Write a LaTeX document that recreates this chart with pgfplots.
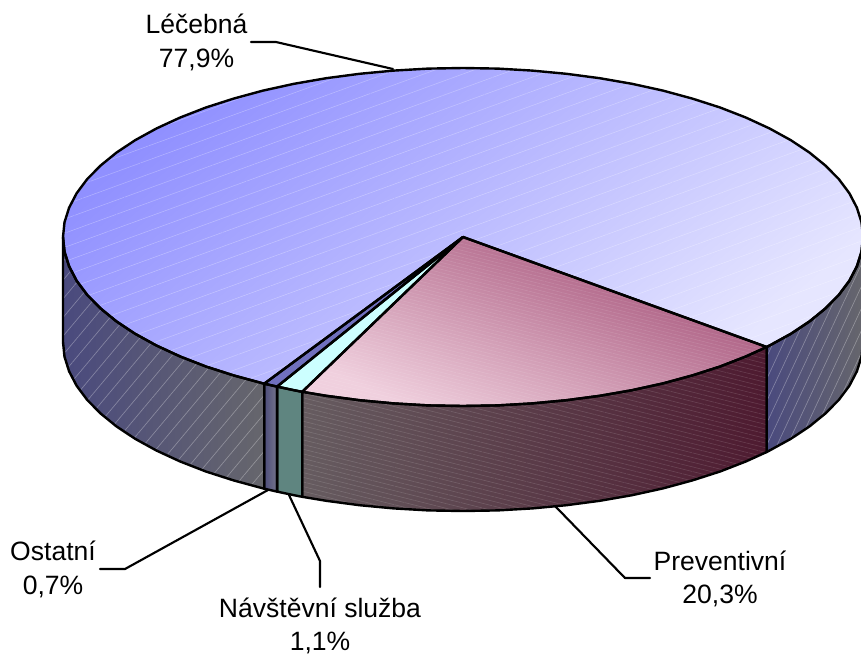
\documentclass[border=0pt]{standalone}
\usepackage{pgfplots}
\pgfplotsset{compat=1.18}
\usepackage{pgfplotstable}
\usepackage{fontspec}
\setmainfont{Liberation Sans}
\usetikzlibrary{patterns.meta}
\definecolor{blueA}{HTML}{9090FF}
\definecolor{blueB}{HTML}{E6E6FF}
\definecolor{pinkA}{HTML}{A04A72}
\definecolor{pinkB}{HTML}{F0D0DE}
\definecolor{sideA}{HTML}{4A4A7E}
\definecolor{sideB}{HTML}{66666C}
\definecolor{sideP}{HTML}{4E1A30}
\definecolor{sideQ}{HTML}{665C60}
\definecolor{teal1}{HTML}{5F8580}
\definecolor{oA}{HTML}{4E4E7C}
\definecolor{oB}{HTML}{74748A}
\definecolor{oTop}{HTML}{7070BE}
\definecolor{cyanTop}{HTML}{CCFFFF}

% top faces (pixel coordinates of the picture)
\pgfplotstableread{
x y
463 237
264.2 383.7
233.6 375.4
205.9 366.5
180.2 356.5
156.6 345.6
135.3 333.9
116.6 321.5
100.5 308.4
87.1 294.8
76.6 280.7
69.1 266.3
64.5 251.7
63 237
64.5 222.3
69.1 207.7
76.6 193.3
87.1 179.2
100.5 165.6
116.6 152.5
135.3 140.1
156.6 128.4
180.2 117.5
205.9 107.5
233.6 98.6
263 90.6
294 83.8
326.2 78.2
359.5 73.8
393.6 70.6
428.1 68.6
463 68
497.9 68.6
532.4 70.6
566.5 73.8
599.8 78.2
632 83.8
663 90.6
692.4 98.6
720.1 107.5
745.8 117.5
769.4 128.4
790.7 140.1
809.4 152.5
825.5 165.6
838.9 179.2
849.4 193.3
856.9 207.7
861.5 222.3
863 237
861.5 251.7
856.9 266.3
849.4 280.7
838.9 294.8
825.5 308.4
809.4 321.5
790.7 333.9
769.4 345.6
766.7 347
463 237
}\topL
\pgfplotstableread{
x y
463 237
766.7 347
745.8 356.5
720.1 366.5
692.4 375.4
663 383.4
632 390.2
599.8 395.8
566.5 400.2
532.4 403.4
497.9 405.4
463 406
428.1 405.4
393.6 403.4
359.5 400.2
326.2 395.8
302.2 391.8
463 237
}\topP
\pgfplotstableread{
x y
463 237
302.2 391.8
294 390.2
277.1 386.6
463 237
}\topV
\pgfplotstableread{
x y
463 237
277.1 386.6
264.2 383.7
463 237
}\topO
% side walls
\pgfplotstableread{
x y
264.2 383.7
233.6 375.4
205.9 366.5
180.2 356.5
156.6 345.6
135.3 333.9
116.6 321.5
100.5 308.4
87.1 294.8
76.6 280.7
69.1 266.3
64.5 251.7
63 237
63 342
64.5 356.7
69.1 371.3
76.6 385.7
87.1 399.8
100.5 413.4
116.6 426.5
135.3 438.9
156.6 450.6
180.2 461.5
205.9 471.5
233.6 480.4
264.2 488.7
264.2 383.7
}\sideLl
\pgfplotstableread{
x y
863 237
861.5 251.7
856.9 266.3
849.4 280.7
838.9 294.8
825.5 308.4
809.4 321.5
790.7 333.9
769.4 345.6
766.7 347
766.7 452
769.4 450.6
790.7 438.9
809.4 426.5
825.5 413.4
838.9 399.8
849.4 385.7
856.9 371.3
861.5 356.7
863 342
863 237
}\sideLr
\pgfplotstableread{
x y
766.7 347
745.8 356.5
720.1 366.5
692.4 375.4
663 383.4
632 390.2
599.8 395.8
566.5 400.2
532.4 403.4
497.9 405.4
463 406
428.1 405.4
393.6 403.4
359.5 400.2
326.2 395.8
302.2 391.8
302.2 496.8
326.2 500.8
359.5 505.2
393.6 508.4
428.1 510.4
463 511
497.9 510.4
532.4 508.4
566.5 505.2
599.8 500.8
632 495.2
663 488.4
692.4 480.4
720.1 471.5
745.8 461.5
766.7 452
766.7 347
}\sidePr
\pgfplotstableread{
x y
302.2 391.8
294 390.2
277.1 386.6
277.1 491.6
294 495.2
302.2 496.8
302.2 391.8
}\sideV
\pgfplotstableread{
x y
277.1 386.6
264.2 383.7
264.2 488.7
277.1 491.6
277.1 386.6
}\sideO
% leader lines
\pgfplotstableread{
x y
251 42
276 42
393 69
}\leadL
\pgfplotstableread{
x y
556 507
625 578
650 578
}\leadP
\pgfplotstableread{
x y
268 490
125 569
100 569
}\leadO
\pgfplotstableread{
x y
289 495
320 561
320 587
}\leadV

\begin{document}
\begin{tikzpicture}[x=1pt,y=1pt]
\useasboundingbox (0,0) rectangle (645.75pt,490.5pt);
\begin{axis}[
  at={(0,0)},anchor=south west,
  scale only axis,width=645.75pt,height=490.5pt,
  xmin=0,xmax=861,ymin=0,ymax=654,y dir=reverse,
  hide axis,clip=true,
  every axis plot/.append style={line join=round,line cap=round},
  outl/.style={draw=black,line width=1.8pt},
]
% walls
\addplot[draw=none,left color=sideA,right color=sideB] table {\sideLl};
\addplot[draw=none,pattern={Lines[angle=50,distance=9pt,line width=.5pt]},pattern color=white,opacity=.3] table {\sideLl};
\addplot[draw=none,left color=sideA,right color=sideB] table {\sideLr};
\addplot[draw=none,pattern={Lines[angle=65,distance=7pt,line width=.5pt]},pattern color=white,opacity=.3] table {\sideLr};
\addplot[draw=none,left color=sideQ,right color=sideP] table {\sidePr};
\addplot[draw=none,pattern={Lines[angle=-14,distance=3.4pt,line width=.4pt]},pattern color=white,opacity=.15] table {\sidePr};
\addplot[draw=none,fill=teal1] table {\sideV};
\addplot[draw=none,left color=oA,right color=oB] table {\sideO};
% tops
\addplot[draw=none,top color=blueA,bottom color=blueB,shading angle=40] table {\topL};
\addplot[draw=none,pattern={Lines[angle=20,distance=10pt,line width=.4pt]},pattern color=white,opacity=.3] table {\topL};
\addplot[draw=none,top color=pinkA,bottom color=pinkB,shading angle=-25] table {\topP};
\addplot[draw=none,pattern={Lines[angle=-14,distance=2.5pt,line width=.4pt]},pattern color=white,opacity=.12] table {\topP};
\addplot[draw=none,fill=cyanTop] table {\topV};
\addplot[draw=none,fill=oTop] table {\topO};
% outlines
\addplot[outl] table {\sideLl};
\addplot[outl] table {\sideLr};
\addplot[outl] table {\sidePr};
\addplot[outl] table {\sideV};
\addplot[outl] table {\sideO};
\addplot[outl] table {\topL};
\addplot[outl] table {\topP};
\addplot[outl] table {\topV};
\addplot[outl] table {\topO};
% leaders
\addplot[draw=black,line width=1.6pt] table {\leadL};
\addplot[draw=black,line width=1.6pt] table {\leadP};
\addplot[draw=black,line width=1.6pt] table {\leadO};
\addplot[draw=black,line width=1.6pt] table {\leadV};
% labels
\tikzset{lab/.style={font=\fontsize{19.9pt}{24pt}\selectfont,inner sep=0pt,anchor=base}}
\node[lab] at (axis cs:196.5,33) {Léčebná};
\node[lab] at (axis cs:196.5,67.5) {77,9\%};
\node[lab] at (axis cs:720,570) {Preventivní};
\node[lab] at (axis cs:720,603) {20,3\%};
\node[lab] at (axis cs:53,560) {Ostatní};
\node[lab] at (axis cs:53,594) {0,7\%};
\node[lab] at (axis cs:320,617) {Návštěvní služba};
\node[lab] at (axis cs:320,650) {1,1\%};
\end{axis}
\end{tikzpicture}
\end{document}
